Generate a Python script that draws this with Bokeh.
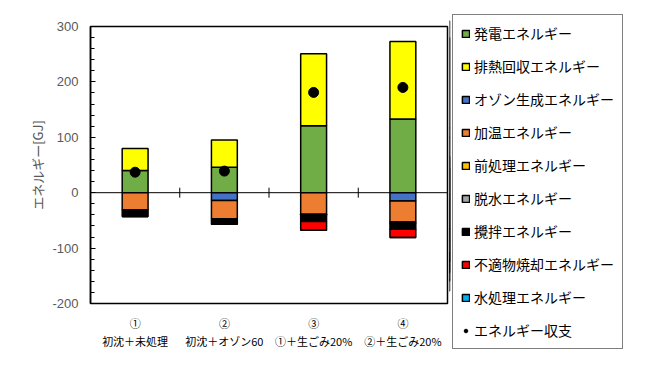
import numpy as np
from bokeh.plotting import figure
from bokeh.layouts import row
from bokeh.models import ColumnDataSource, FixedTicker, Span, Legend, LegendItem
from bokeh.embed import file_html
from bokeh.resources import INLINE

# ---- data ----
categories = ["①\n初沈＋未処理", "②\n初沈＋オゾン60", "③\n①＋生ごみ20%", "④\n②＋生ごみ20%"]
power_gen = [40, 46, 121, 133]        # 発電エネルギー
heat_recovery = [40, 49, 130, 140]    # 排熱回収エネルギー
ozone = [0, -14, 0, -15]              # オゾン生成エネルギー
heating = [-31, -33, -39, -38]        # 加温エネルギー
pretreat = [0, 0, -2, -2]             # 前処理エネルギー
dewater = [0, 0, 0, 0]                # 脱水エネルギー
stirring = [-12, -10, -11, -11]       # 攪拌エネルギー
incineration = [0, 0, -16, -15]       # 不適物焼却エネルギー
water_treat = [0, 0, 0, 0]            # 水処理エネルギー
balance = [37, 39, 181, 190]          # エネルギー収支
y_ticks = [-200, -100, 0, 100, 200, 300]

pos_names = ["発電エネルギー", "排熱回収エネルギー"]
neg_names = ["オゾン生成エネルギー", "加温エネルギー", "前処理エネルギー", "脱水エネルギー",
             "攪拌エネルギー", "不適物焼却エネルギー", "水処理エネルギー"]
pos_colors = ["#70AD47", "#FFFF00"]
neg_colors = ["#4472C4", "#ED7D31", "#FFC000", "#A5A5A5", "#000000", "#FF0000", "#00B0F0"]

xs = list(range(1, len(categories) + 1))
pos_keys = ["p0", "p1"]
neg_keys = ["n%d" % i for i in range(len(neg_names))]
data = dict(x=xs, bal=balance)
for k, v in zip(pos_keys, [power_gen, heat_recovery]):
    data[k] = v
for k, v in zip(neg_keys, [ozone, heating, pretreat, dewater, stirring, incineration, water_treat]):
    data[k] = v
src = ColumnDataSource(data)

JP = "Noto Sans CJK JP"
H = 381
bw = 0.29


def draw_series(fig):
    pr = fig.vbar_stack(pos_keys, x="x", width=bw, color=pos_colors, line_color="black",
                        line_width=1.5, source=src)
    nr = fig.vbar_stack(neg_keys, x="x", width=bw, color=neg_colors, line_color="black",
                        line_width=1.5, source=src)
    return pr, nr


p = figure(width=449, height=H, x_range=(0.5, len(categories) + 0.5), y_range=(-200, 300),
           output_backend="svg", toolbar_location=None,
           min_border_left=90, min_border_right=2, min_border_top=26, min_border_bottom=78)
p.outline_line_color = "black"
p.outline_line_width = 1.5
p.xgrid.visible = False
p.ygrid.visible = False

zero = Span(location=0, dimension="width", line_color="black", line_width=1, level="underlay")
p.add_layout(zero)

draw_series(p)
p.scatter(x="x", y="bal", size=10, color="black", source=src)

bounds = [x + 0.5 for x in xs[:-1]]
p.scatter(x=bounds, y=[0] * len(bounds), marker="dash", angle=np.pi / 2, size=10,
          line_color="black", line_width=1)

# y axis
ya = p.yaxis[0]
ya.ticker = FixedTicker(ticks=y_ticks, minor_ticks=list(range(-200, 301, 20)))
ya.major_label_overrides = {t: str(t) for t in y_ticks}
ya.major_tick_in = 5
ya.major_tick_out = 0
ya.minor_tick_in = 4
ya.minor_tick_out = 0
ya.axis_line_color = "black"
ya.axis_line_width = 1.5
ya.major_tick_line_color = "black"
ya.minor_tick_line_color = "black"
ya.major_label_text_font = "Liberation Sans"
ya.major_label_text_font_size = "13px"
ya.major_label_text_color = "#595959"
ya.major_label_standoff = 12
ya.axis_label = "エネルギー[GJ]"
ya.axis_label_text_font = JP
ya.axis_label_text_font_size = "13px"
ya.axis_label_text_font_style = "normal"
ya.axis_label_text_color = "#595959"
ya.axis_label_standoff = 2

# x axis
xa = p.xaxis[0]
xa.ticker = FixedTicker(ticks=xs)
xa.major_label_overrides = {x: c for x, c in zip(xs, categories)}
xa.axis_line_color = None
xa.major_tick_line_color = None
xa.minor_tick_line_color = None
xa.major_label_text_font = JP
xa.major_label_text_font_size = "11px"
xa.major_label_text_color = "black"
xa.major_label_text_line_height = 1.15
xa.major_label_standoff = 5

# ---- legend panel (proxy renderers lie outside this panel's visible range) ----
q = figure(width=660 - 449, height=H, x_range=(100, 101), y_range=(-200, 300),
           output_backend="svg", toolbar_location=None, x_axis_type=None, y_axis_type=None,
           min_border_left=0, min_border_right=0, min_border_top=0, min_border_bottom=0)
q.outline_line_color = None
q.frame_align = False
q_pos, q_neg = draw_series(q)
q_dot = q.scatter(x="x", y="bal", size=8, color="black", source=src)

items = []
for name, r in zip(pos_names + neg_names, list(q_pos) + list(q_neg)):
    items.append(LegendItem(label=name, renderers=[r]))
items.append(LegendItem(label="エネルギー収支", renderers=[q_dot]))

legend = Legend(items=items, location=(3, 32), orientation="vertical",
                label_text_font=JP, label_text_font_size="14px", label_text_color="black",
                glyph_width=9, glyph_height=9, label_height=20, spacing=13, padding=8,
                label_standoff=4, margin=0, border_line_color="black", border_line_width=1.5,
                background_fill_alpha=1)
q.add_layout(legend, "center")

layout = row(p, q, spacing=0)
open("out.html", "w").write(file_html(layout, INLINE))
